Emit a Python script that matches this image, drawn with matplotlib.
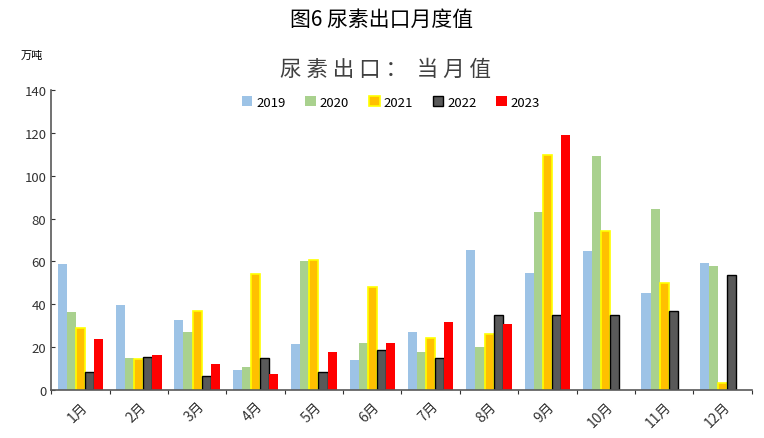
import numpy as np
import matplotlib.pyplot as plt

plt.rcParams['font.family'] = ['Noto Sans CJK SC', 'DejaVu Sans']

months = ['1月', '2月', '3月', '4月', '5月', '6月', '7月', '8月', '9月', '10月', '11月', '12月']
years = ['2019', '2020', '2021', '2022', '2023']
v2019 = [59, 39.5, 32.5, 9.5, 21.5, 14, 27, 65.5, 54.5, 65, 45.5, 59.5]
v2020 = [36.5, 15, 27, 11, 60, 22, 18, 20, 83, 109, 84.5, 58]
v2021 = [29, 14.5, 37, 54, 60.5, 48, 24.5, 26, 109.5, 74, 50, 3.5]
v2022 = [8.5, 15.5, 6.5, 15, 8.5, 18.5, 15, 35, 35, 35, 37, 53.5]
v2023 = [24, 16.5, 12, 7.5, 18, 22, 32, 31, 119, np.nan, np.nan, np.nan]

series = [v2019, v2020, v2021, v2022, v2023]
fills = ['#9DC3E6', '#A9D18E', '#FFC000', '#595959', '#FF0000']
edges = ['#9DC3E6', '#A9D18E', '#FFFF00', '#000000', '#FF0000']
lws = [0, 0, 1.2, 1.0, 0]

fig = plt.figure(figsize=(7.64, 4.39), dpi=100)
ax = fig.add_axes([0.067, 0.109, 0.917, 0.684])

x = np.arange(len(months))
w = 0.156
for i, (vals, yr) in enumerate(zip(series, years)):
    ax.bar(x + (i - 2) * w, vals, width=w, color=fills[i],
           edgecolor=edges[i], linewidth=lws[i], label=yr)

ax.set_xlim(-0.5, 11.5)
ax.set_ylim(0, 140)
ax.set_yticks(range(0, 141, 20))
ax.tick_params(axis='y', direction='in', length=3, labelsize=9.5, colors='#333333')
ax.set_xticks(np.arange(-0.5, 12, 1))
ax.set_xticklabels([])
ax.tick_params(axis='x', direction='out', length=3, color='#333333')
for xi, m in zip(x, months):
    ax.text(xi, -4, m, rotation=45, ha='right', va='top', rotation_mode='anchor',
            fontsize=10, color='#333333', transform=ax.transData)

for s in ['top', 'right']:
    ax.spines[s].set_visible(False)
for s in ['left', 'bottom']:
    ax.spines[s].set_color('#595959')
    ax.spines[s].set_linewidth(1.2)

ax.legend(loc='upper center', bbox_to_anchor=(0.485, 1.02), ncol=5, frameon=False,
          fontsize=9.5, handlelength=0.8, handleheight=0.8, columnspacing=1.5,
          handletextpad=0.3)

fig.text(0.5, 0.955, '图6 尿素出口月度值', ha='center', va='center', fontsize=15, color='#000000')
fig.text(0.505, 0.84, '尿 素 出 口 ：  当 月 值', ha='center', va='center', fontsize=15.5, color='#404040')
fig.text(0.042, 0.872, '万吨', ha='center', va='center', fontsize=8, color='#000000')

plt.savefig('out.png', dpi=100)
